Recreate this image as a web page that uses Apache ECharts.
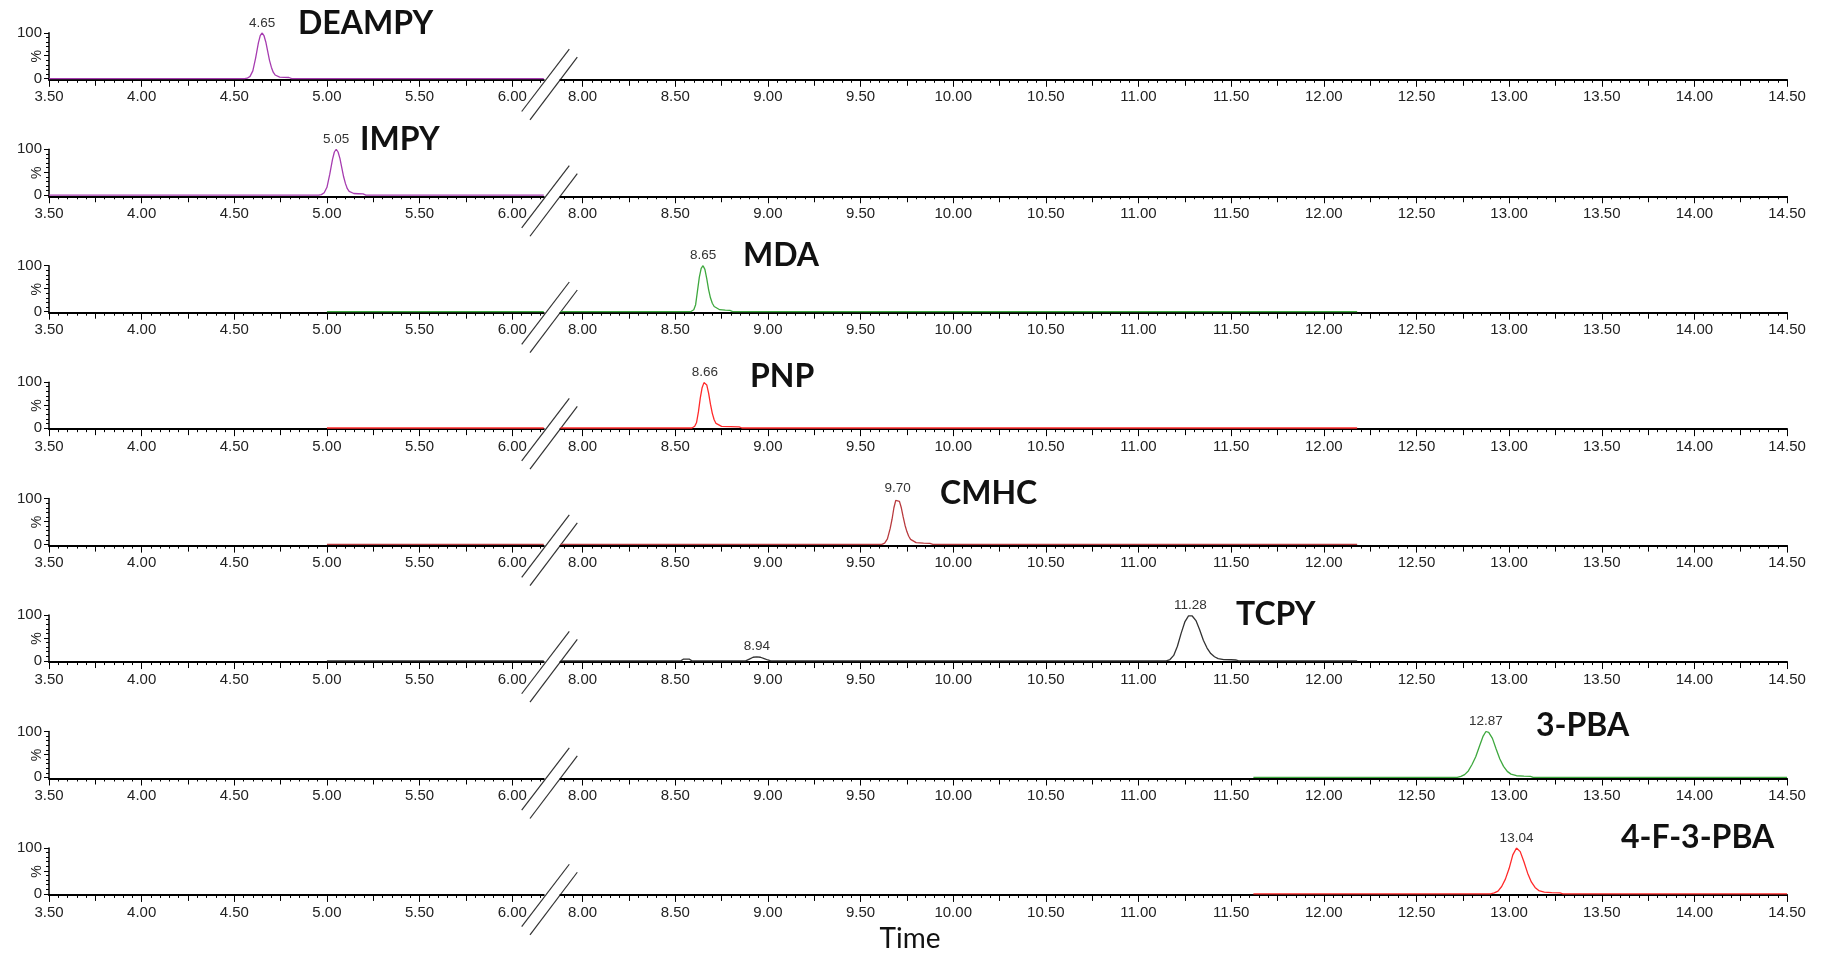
<!DOCTYPE html>
<html><head><meta charset="utf-8">
<script src="https://cdn.jsdelivr.net/npm/echarts@6/dist/echarts.min.js"></script>
<style>html,body{margin:0;padding:0;background:#fff}#c{width:1827px;height:956px}</style>
</head><body><div id="c"></div>
<script>
// ---------------- data ----------------
const COMPOUNDS = ['DEAMPY','IMPY','MDA','PNP','CMHC','TCPY','3-PBA','4-F-3-PBA'];
const COLORS = ['#a63cb0','#a63cb0','#3ea83e','#ff2a2a','#b83a3e','#333333','#3ea83e','#ff2a2a'];
const LEFT_TICKS = [3.5,4.0,4.5,5.0,5.5,6.0];
const RIGHT_TICKS = [8.0,8.5,9.0,9.5,10.0,10.5,11.0,11.5,12.0,12.5,13.0,13.5,14.0,14.5];
const Y_TICK_LABELS = [0,100];
const Y_MAJOR_TICKS = [0,50,100];
const Y_MINOR_TICKS = [10,20,30,40,60,70,80,90];

const DEAMPY_DATA = [[3.50,0],[4.555,0],[4.57,1],[4.585,5],[4.60,17],[4.615,45],[4.63,78],[4.64,94],[4.65,100],[4.66,94],[4.67,80],[4.68,60],[4.69,40],[4.70,25],[4.71,14],[4.72,8],[4.73,5],[4.745,3.5],[4.77,3],[4.795,2.5],[4.81,0],[5.50,0],[6.17,0]];
const IMPY_DATA = [[3.50,0],[4.955,0],[4.97,1],[4.985,5],[5.00,17],[5.015,45],[5.03,78],[5.04,94],[5.05,100],[5.06,94],[5.07,80],[5.08,60],[5.09,40],[5.10,25],[5.11,14],[5.12,8],[5.13,5],[5.145,3.5],[5.17,3],[5.195,2.5],[5.21,0],[5.70,0],[6.17,0]];
const MDA_DATA = [[5.00,0],[6.17,0],[7.88,0],[8.585,0],[8.60,4],[8.61,15],[8.62,45],[8.63,75],[8.64,94],[8.65,100],[8.66,92],[8.67,72],[8.68,48],[8.69,30],[8.70,18],[8.71,11],[8.72,7],[8.74,4],[8.77,3],[8.795,2.5],[8.81,0],[10.50,0],[12.18,0]];
const PNP_DATA = [[5.00,0],[6.17,0],[7.88,0],[8.59,0],[8.605,4],[8.615,12],[8.625,35],[8.635,65],[8.645,88],[8.655,99],[8.66,100],[8.67,94],[8.68,76],[8.69,52],[8.70,32],[8.71,18],[8.72,10],[8.73,6],[8.75,3.5],[8.80,3],[8.845,2.5],[8.86,0],[10.50,0],[12.18,0]];
const CMHC_DATA = [[5.00,0],[6.17,0],[7.88,0],[9.615,0],[9.63,3],[9.645,12],[9.66,35],[9.67,55],[9.68,80],[9.69,96],[9.70,100],[9.71,94],[9.72,80],[9.73,60],[9.74,42],[9.75,28],[9.76,18],[9.77,11],[9.78,7],[9.80,4],[9.84,3],[9.875,2.5],[9.89,0],[11.00,0],[12.18,0]];
const TCPY_DATA = [[5.00,0],[6.17,0],[7.88,0],[8.53,0],[8.545,4],[8.575,4],[8.59,0],[8.88,0],[8.90,4],[8.92,8],[8.94,9],[8.96,8],[8.98,5],[9.00,2],[9.015,0],[11.15,0],[11.17,3],[11.19,12],[11.21,32],[11.23,60],[11.25,85],[11.27,98],[11.28,100],[11.29,98],[11.31,88],[11.33,68],[11.35,45],[11.37,28],[11.39,16],[11.41,9],[11.43,5],[11.46,3],[11.50,2.5],[11.525,2],[11.54,0],[11.90,0],[12.18,0]];
const PBA3_DATA = [[11.62,0],[12.72,0],[12.74,2],[12.76,6],[12.78,14],[12.80,28],[12.82,45],[12.84,68],[12.86,90],[12.875,100],[12.89,98],[12.91,85],[12.93,62],[12.95,40],[12.97,24],[12.99,13],[13.01,7],[13.04,3.5],[13.08,2.5],[13.115,2],[13.13,0],[13.80,0],[14.50,0]];
const FPBA_DATA = [[11.62,0],[12.90,0],[12.92,2],[12.94,6],[12.96,16],[12.98,32],[13.00,55],[13.02,85],[13.04,100],[13.06,92],[13.08,70],[13.10,45],[13.12,26],[13.14,14],[13.16,7],[13.19,3.5],[13.23,2.5],[13.275,2],[13.29,0],[13.90,0],[14.50,0]];
const TRACES = [DEAMPY_DATA, IMPY_DATA, MDA_DATA, PNP_DATA, CMHC_DATA, TCPY_DATA, PBA3_DATA, FPBA_DATA];

const PEAK_TIMES = [[4.65],[5.05],[8.65],[8.66],[9.70],[11.28,8.94],[12.875],[13.04]];
const PEAK_HEIGHTS = [[100],[100],[100],[100],[100],[100,9],[100],[100]];
const PEAK_LABELS = [['4.65'],['5.05'],['8.65'],['8.66'],['9.70'],['11.28','8.94'],['12.87'],['13.04']];

// ---------------- layout ----------------
const LEFT_MIN = 3.5, LEFT_MAX = 6.17, RIGHT_MIN = 7.88, RIGHT_MAX = 14.5;
const Y_MIN = -2.5, Y_MAX = 100;
const K = 185.3;          // px per minute
const X_LEFT = 49;        // pixel of 3.50
const X_8 = 582.6;        // pixel of 8.00
const AX0 = 79.8, STEP = 116.45, PH = 47;
const NAME_POS = [[298,24],[360,140],[743,256],[750,377],[940,494],[1236,615],[1536,726],[1621,838]];
const TICK_FONT = {fontFamily:'Liberation Sans, Arial, sans-serif', fontSize:15, color:'#222'};

const grids = [], xAxes = [], yAxes = [], series = [], graphics = [];

function tickSets(min, max){
  const mids = [], minors = [];
  for (let k = Math.ceil(min*20 - 1e-9); k*0.05 <= max + 1e-9; k++){
    if (k % 10 === 0) continue;
    const v = +(k*0.05).toFixed(2);
    if (k % 5 === 0) mids.push(v); else minors.push(v);
  }
  return {mids, minors};
}

function addGrid(top, left, width, min, max, majors, showY){
  const g = grids.length;
  grids.push({left, top, width, height: PH, outerBoundsMode:'none', containLabel:false});
  const ts = tickSets(min, max);
  const base = {type:'value', gridIndex:g, min, max, position:'bottom', splitLine:{show:false}, axisLine:{show:false, onZero:false}};
  const xi = xAxes.length;
  xAxes.push(Object.assign({}, base, {
    axisLine:{show:true, onZero:false, lineStyle:{color:'#000', width:2}},
    axisTick:{show:true, customValues:majors, length:7, lineStyle:{color:'#000', width:1}},
    axisLabel:Object.assign({show:true, customValues:majors, margin:10, formatter:v=>(+v).toFixed(2)}, TICK_FONT)
  }));
  xAxes.push(Object.assign({}, base, {
    axisTick:{show:true, customValues:ts.mids, length:6, lineStyle:{color:'#000', width:1}},
    axisLabel:{show:false}
  }));
  xAxes.push(Object.assign({}, base, {
    axisTick:{show:true, customValues:ts.minors, length:3, lineStyle:{color:'#000', width:1}},
    axisLabel:{show:false}
  }));
  const yi = yAxes.length;
  if (showY){
    yAxes.push({type:'value', gridIndex:g, min:Y_MIN, max:Y_MAX, position:'left',
      axisLine:{show:true, onZero:false, lineStyle:{color:'#000', width:1.5}},
      axisTick:{show:true, customValues:Y_MAJOR_TICKS, length:5, lineStyle:{color:'#000'}},
      axisLabel:Object.assign({customValues:Y_TICK_LABELS, margin:7, formatter:v=>String(v)}, TICK_FONT),
      splitLine:{show:false},
      name:'%', nameLocation:'middle', nameGap:4.5, nameRotate:90, nameMoveOverlap:false,
      nameTextStyle:{fontFamily:'Liberation Sans, Arial, sans-serif', fontSize:14, color:'#222'}});
    yAxes.push({type:'value', gridIndex:g, min:Y_MIN, max:Y_MAX, position:'left',
      axisLine:{show:false, onZero:false},
      axisTick:{show:true, customValues:Y_MINOR_TICKS, length:3, lineStyle:{color:'#000'}},
      axisLabel:{show:false}, splitLine:{show:false}});
  } else {
    yAxes.push({type:'value', gridIndex:g, min:Y_MIN, max:Y_MAX, show:false});
  }
  return {g, xi, yi};
}

COMPOUNDS.forEach((name, i) => {
  const axisY = AX0 + STEP*i;
  const top = axisY - PH;
  const gL = addGrid(top, X_LEFT, (LEFT_MAX-LEFT_MIN)*K, LEFT_MIN, LEFT_MAX, LEFT_TICKS, true);
  const gR = addGrid(top, X_8 - (8-RIGHT_MIN)*K, (RIGHT_MAX-RIGHT_MIN)*K, RIGHT_MIN, RIGHT_MAX, RIGHT_TICKS, false);
  const data = TRACES[i];
  const parts = [
    {ax:gL, pts:data.filter(p => p[0] <= LEFT_MAX), min:LEFT_MIN, max:LEFT_MAX},
    {ax:gR, pts:data.filter(p => p[0] >= RIGHT_MIN), min:RIGHT_MIN, max:RIGHT_MAX}
  ];
  parts.forEach(part => {
    if (!part.pts.length) return;
    const mp = [];
    PEAK_TIMES[i].forEach((t, j) => {
      if (t >= part.min && t <= part.max) mp.push({name:PEAK_LABELS[i][j], coord:[t, PEAK_HEIGHTS[i][j]]});
    });
    series.push({
      type:'line', xAxisIndex:part.ax.xi, yAxisIndex:part.ax.yi, data:part.pts,
      smooth:false, step:false, sampling:null, connectNulls:false,
      showSymbol:false, symbol:'none', silent:true, animation:false, z:5,
      lineStyle:{color:COLORS[i], width:1.3}, itemStyle:{color:COLORS[i]},
      markPoint: mp.length ? {symbol:'circle', symbolSize:0, silent:true, animation:false,
        label:{show:true, position:'top', distance:3, formatter:p=>p.name,
          fontFamily:'Liberation Sans, Arial, sans-serif', fontSize:13.5, color:'#333'},
        data:mp} : undefined
    });
  });
  // compound name
  graphics.push({type:'text', x:NAME_POS[i][0], y:NAME_POS[i][1], silent:true,
    style:{text:name, font:'bold 32px Lato, "Noto Sans", sans-serif', fill:'#111', verticalAlign:'middle', textVerticalAlign:'middle'}});
  // axis break marks
  graphics.push({type:'line', silent:true, shape:{x1:521.7, y1:axisY+31.7, x2:569.3, y2:axisY-30.7}, style:{stroke:'#333', lineWidth:1.2}});
  graphics.push({type:'line', silent:true, shape:{x1:530, y1:axisY+40, x2:577.3, y2:axisY-22.7}, style:{stroke:'#333', lineWidth:1.2}});
});

graphics.push({type:'text', x:910, y:939, silent:true,
  style:{text:'Time', font:'28px Lato, "Noto Sans", sans-serif', fill:'#111', align:'center', textAlign:'center', verticalAlign:'middle', textVerticalAlign:'middle'}});

const chart = echarts.init(document.getElementById('c'), null, {renderer:'canvas'});
chart.setOption({
  backgroundColor:'#fff',
  animation:false,
  grid:grids, xAxis:xAxes, yAxis:yAxes, series:series,
  graphic:{elements:graphics}
});
</script></body></html>
